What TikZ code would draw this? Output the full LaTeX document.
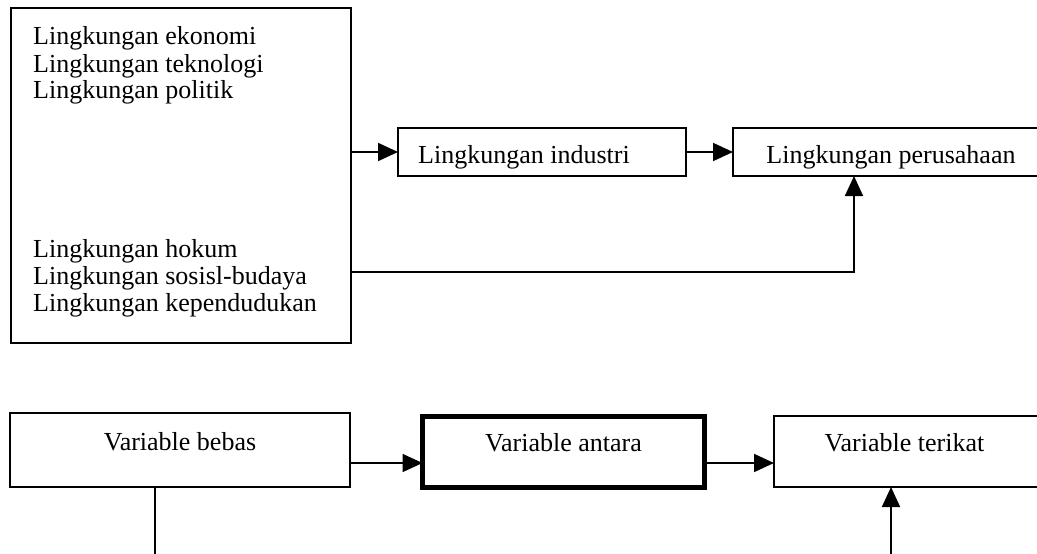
\documentclass[tikz,border=0pt]{standalone}
\usepackage{fontspec}
\setmainfont{Liberation Serif}
\usetikzlibrary{arrows.meta}
\begin{document}
\begin{tikzpicture}[x=1pt,y=-1pt,
  font=\fontsize{26}{27}\selectfont,
  box/.style={draw,line width=1.6pt,inner sep=0pt,outer sep=0pt},
  topbox/.style={box,minimum height=48pt,text height=23pt,text depth=0pt},
  lowbox/.style={box,text height=18pt,text depth=18pt},
  arr/.style={line width=1.8pt,-{Triangle[length=20pt,width=18pt]}},
  ln/.style={line width=1.8pt},
  lbl/.style={anchor=base west,inner sep=0pt}]
\useasboundingbox (0,0) rectangle (1037,554);
\clip (0,0) rectangle (1037,554);
% top row
\node[box,minimum width=340pt,minimum height=335pt] (tl) at (181,175.5) {};
\node[lbl] (t1) at (33,45) {Lingkungan ekonomi};
\node[lbl] (t2) at (33,72) {Lingkungan teknologi};
\node[lbl] (t3) at (33,98) {Lingkungan politik};
\node[lbl] (t4) at (33,257) {Lingkungan hokum};
\node[lbl] (t5) at (33,284) {Lingkungan sosisl-budaya};
\node[lbl] (t6) at (33,311) {Lingkungan kependudukan};
\node[topbox,minimum width=288pt] (ind) at (542,152) {\hspace*{-36pt}Lingkungan industri};
\node[topbox,minimum width=316pt] (per) at (891,152) {Lingkungan perusahaan};
\draw[arr] (tl.east |- ind.west) -- (ind.west);
\draw[arr] (ind.east) -- (per.west);
\coordinate (c3) at (854,272);
\draw[arr] (tl.east |- c3) -- (c3) -- (c3 |- per.south);
% bottom row
\node[lowbox,minimum width=340pt,minimum height=74pt] (beb) at (180,450) {Variable bebas};
\node[lowbox,line width=5pt,minimum width=282pt,minimum height=71.5pt] (ant) at (563.5,451.75) {Variable antara};
\node[lowbox,minimum width=271pt,minimum height=71pt] (ter) at (909.5,451.5) {\hspace*{-10pt}Variable terikat};
\coordinate (ya) at (0,463);
\draw[arr] (beb.east |- ya) -- (ant.west |- ya);
\draw[arr] (ant.east |- ya) -- (ter.west |- ya);
\coordinate (b1) at (155,560);
\coordinate (b2) at (891,560);
\draw[ln] (beb.south -| b1) -- (b1);
\draw[arr] (b2) -- (b2 |- ter.south);
\end{tikzpicture}
\end{document}
